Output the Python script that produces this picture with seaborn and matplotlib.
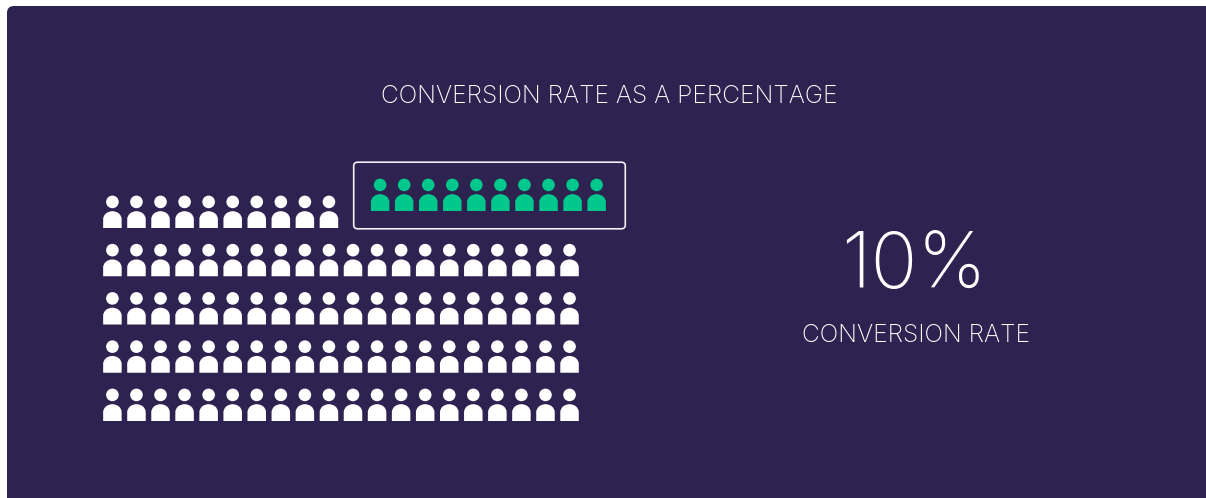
import numpy as np
import pandas as pd
import seaborn as sns
import matplotlib
matplotlib.use("Agg")
import matplotlib.pyplot as plt
from matplotlib.path import Path
from matplotlib.patches import FancyBboxPatch
from matplotlib.transforms import Affine2D

# Visitors per row, top row first; the top row is short by the converted visitors
visitor_rows = [10, 20, 20, 20, 20]
converted_count = 10
title_text = "CONVERSION RATE AS A PERCENTAGE"
rate_caption = "CONVERSION RATE"

W, H = 1206, 498
PANEL = "#2E2350"
GREEN = "#00C78C"
COL_STEP = 24.06
ROW_STEP = 48.25
FIRST_COL_PX = 112.4
BOTTOM_ROW_PX = 404.8
ICON_PX = 32.4


def person_marker():
    """Head and domed shoulders, centred on the origin."""
    half = ICON_PX / 2
    head = Path.unit_circle().transformed(
        Affine2D().scale(6.3).translate(0.0, half - 6.3))
    dome = Path.arc(0, 180)
    dome_centre = -7.4
    arc_verts = dome.vertices * [9.25, 8.0] + [0, dome_centre]
    verts = np.vstack([arc_verts, [[-9.25, -half], [9.25, -half], [9.25, dome_centre]]])
    codes = list(dome.codes) + [Path.LINETO, Path.LINETO, Path.CLOSEPOLY]
    return Path.make_compound_path(head, Path(verts, codes))


sns.set_theme(style="white", rc={"font.family": ["Inter", "DejaVu Sans"]})
fig = plt.figure(figsize=(W / 100, H / 100), dpi=100, facecolor="white")

# Pixel space with the origin at the top left, for the panel and frame
px = Affine2D().scale(1, -1).translate(0, H)
fig.add_artist(FancyBboxPatch((7, 6), W + 30, H + 30,
                              boxstyle="round,pad=0,rounding_size=7",
                              fc=PANEL, ec="none", transform=px, zorder=-1))

ax = fig.add_axes([0, 0, 1, 1], facecolor="none")
ax.set_xlim(-FIRST_COL_PX / COL_STEP, (W - FIRST_COL_PX) / COL_STEP)
ax.set_ylim(-(H - BOTTOM_ROW_PX) / ROW_STEP, BOTTOM_ROW_PX / ROW_STEP)
ax.axis("off")

n_rows = len(visitor_rows)
visitors = pd.DataFrame(
    [(c, n_rows - 1 - r) for r, n in enumerate(visitor_rows) for c in range(n)],
    columns=["col", "row"],
)
# The converted group continues the top row, lifted out into its own frame
converted = pd.DataFrame({
    "col": np.arange(converted_count) + visitor_rows[0] + 27.1 / COL_STEP,
    "row": n_rows - 1 + 17.0 / ROW_STEP,
})

marker = person_marker()
size = (ICON_PX * 0.72) ** 2
sns.scatterplot(data=visitors, x="col", y="row", ax=ax, marker=marker, s=size,
                color="white", edgecolor="none", linewidth=0, legend=False)
sns.scatterplot(data=converted, x="col", y="row", ax=ax, marker=marker, s=size,
                color=GREEN, edgecolor="none", linewidth=0, legend=False)
ax.set_xlabel("")
ax.set_ylabel("")

fig.add_artist(FancyBboxPatch((353.7, 162.2), 271.6, 66.6,
                              boxstyle="round,pad=0,rounding_size=4",
                              fc="none", ec="#F1EFF4", lw=1.2, transform=px))

total = sum(visitor_rows) + converted_count
rate = round(100 * converted_count / total)
text_kw = dict(color="white", ha="center", va="baseline", fontweight="light", transform=px)
fig.text(609, 103, title_text, fontsize=17.7, **text_kw)
fig.text(913.5, 288, f"{rate}%", fontsize=56, **text_kw)
fig.text(915.5, 341.5, rate_caption, fontsize=17.7, **text_kw)

fig.savefig("out.png", dpi=100, facecolor="white")
